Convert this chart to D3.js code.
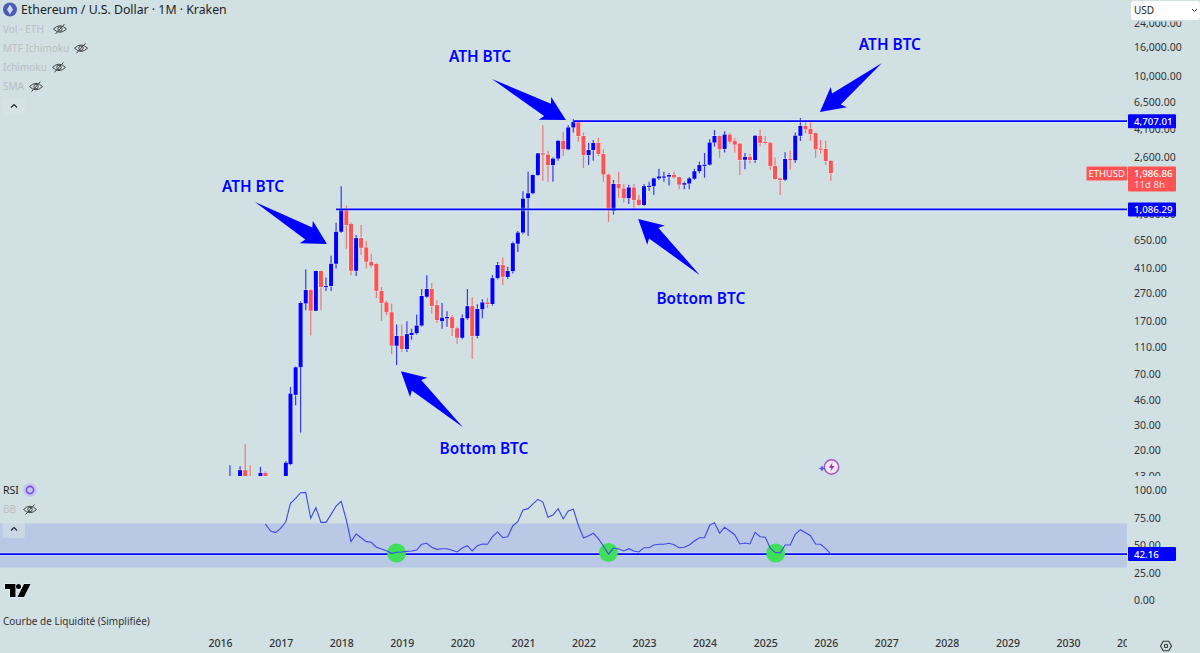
<!DOCTYPE html>
<html>
<head>
<meta charset="utf-8">
<title>ETHUSD monthly</title>
<script src="https://cdn.jsdelivr.net/npm/d3@7"></script>
<style>
  html, body { margin: 0; padding: 0; background: #d1e0e3; }
  svg { display: block; }
  text { font-family: "Noto Sans", sans-serif; }
</style>
</head>
<body>
<svg id="chart" width="1200" height="653"></svg>
<script>
/* ---- data ---- */
const months = [
  "2016-03","2016-05","2016-06","2016-07","2016-09","2016-10",
  "2017-02","2017-03","2017-04","2017-05","2017-06","2017-07","2017-08","2017-09","2017-10","2017-11","2017-12",
  "2018-01","2018-02","2018-03","2018-04","2018-05","2018-06","2018-07","2018-08","2018-09","2018-10","2018-11","2018-12",
  "2019-01","2019-02","2019-03","2019-04","2019-05","2019-06","2019-07","2019-08","2019-09","2019-10","2019-11","2019-12",
  "2020-01","2020-02","2020-03","2020-04","2020-05","2020-06","2020-07","2020-08","2020-09","2020-10","2020-11","2020-12",
  "2021-01","2021-02","2021-03","2021-04","2021-05","2021-06","2021-07","2021-08","2021-09","2021-10","2021-11","2021-12",
  "2022-01","2022-02","2022-03","2022-04","2022-05","2022-06","2022-07","2022-08","2022-09","2022-10","2022-11","2022-12",
  "2023-01","2023-02","2023-03","2023-04","2023-05","2023-06","2023-07","2023-08","2023-09","2023-10","2023-11","2023-12",
  "2024-01","2024-02","2024-03","2024-04","2024-05","2024-06","2024-07","2024-08","2024-09","2024-10","2024-11","2024-12",
  "2025-01","2025-02","2025-03","2025-04","2025-05","2025-06","2025-07","2025-08","2025-09","2025-10","2025-11","2025-12",
  "2026-01","2026-02"
];
const open = [
  7,9,14.3,12,12,13.7,
  11,15.8,50,79,228,285,202,391,300,305,441,
  750,1086,855,392,675,578,456,440,281,232,197,113,
  133,107,135,139,158,255,290,222,170,178,181,151,
  129,178,218,133,207,232,226,347,432,354,390,615,
  740,1310,1420,1920,2760,2700,2270,2530,3400,2950,4240,4650,
  3680,2680,2915,3280,2730,1940,1060,1660,1540,1310,1565,1280,
  1170,1595,1600,1820,1870,1875,1930,1860,1640,1670,1810,2050,
  2270,2285,3300,3680,2970,3770,3400,3240,2480,2600,2470,3700,
  3340,3290,2240,1820,1780,2520,2460,3690,4350,4140,3860,2990,
  2970,2440
];
const high = [
  15.5,15.3,22,15.5,15.1,14,
  16.6,57,80,236,403,290,395,395,351,503,870,
  1600,1160,880,710,840,645,520,445,300,238,228,161,
  161,170,150,190,290,365,320,241,230,200,188,155,
  190,290,253,225,245,250,365,455,490,420,635,760,
  1470,2030,1950,2780,4400,2880,2580,3450,3950,4400,4870,4770,
  3900,3290,3440,3580,2950,1975,1770,2030,1660,1640,1660,1380,
  1660,1720,1840,2140,2030,1990,2030,1870,1720,1860,2140,2400,
  2770,3490,4060,3730,3980,3870,3550,3270,2780,2730,3720,4100,
  3680,3330,2580,1850,2810,2880,3900,4955,4720,4750,3900,3440,
  3400,2450
];
const low = [
  6,8,11,9.5,11,10,
  10,15.5,42,26.7,204,134,200,204,281,281,408,
  735,565,365,360,510,408,415,250,170,188,98,82,
  102,102,125,136,155,250,193,165,150,155,133,117,
  126,174,91,128,178,212,220,340,310,342,375,535,
  720,700,1400,1900,1745,1720,1720,2440,2640,2900,3900,3350,
  2160,2270,2440,2640,1720,885,1000,1320,1220,1190,1075,1150,
  1150,1480,1380,1770,1720,1620,1820,1520,1520,1520,1770,1980,
  1840,2250,3090,2560,2800,3250,2800,1925,2120,2340,2360,3090,
  3200,2090,1780,1380,1740,2110,2360,3390,3860,3400,2560,2750,
  2270,1750
];
const close = [
  11.5,14.3,12,11.5,13.7,11,
  16.2,51,79,230,285,202,391,300,305,441,750,
  1086,840,392,675,575,456,428,281,230,197,113,133,
  107,137,140,158,258,290,219,173,180,182,151,129,
  179,218,133,208,232,226,347,432,355,392,620,740,
  1300,1420,1925,2760,2700,2270,2530,3400,2950,4240,4650,3680,
  2680,2915,3280,2730,1940,1060,1660,1540,1310,1565,1270,1170,
  1600,1610,1820,1880,1880,1925,1850,1640,1680,1820,2050,2270,
  2285,3300,3680,2950,3770,3350,3190,2470,2600,2470,3700,3280,
  3290,2230,1800,1770,2510,2460,3700,4350,4110,3800,2950,2970,
  2430,1986.86
];

// RSI, one value a month from 2016-10 to 2026-02
const rsiStart = "2016-10";
const rsi = [
  69.5,63.2,61.7,
  65.6,71.6,88.3,92.9,98,98.3,74.7,84.4,71,71,78.3,85.9,
  90.2,73.2,53.5,60.5,57.1,53.5,52.9,48.4,46.8,45.3,42.9,43.8,
  44.1,44.7,45,45.9,51.1,52,48.4,46.5,47.1,47.1,45.6,44.1,
  47.7,49.8,45,49.8,51.4,51.1,58,62.3,57.1,58,68,71.6,
  82.3,83.5,87.7,92,89.5,75.6,77.7,83.5,74.1,81.4,82.9,68.4,
  56.8,58.9,61.1,56.2,49.5,42.3,47.7,46.8,45,47.1,45,44.1,
  48,48,50.5,51.1,51.1,52,50.7,48,48.4,50.5,54.1,57.1,
  57.1,68.4,70.7,61.1,66.5,63.2,59.8,51.4,52.3,51.4,62,58,
  57.5,47.5,43.8,43.2,50.5,50.5,60.2,64.4,61.6,58.9,51.4,51.1,
  47.1,42.16
];

const priceTicks = [24000,16000,10000,6500,4100,2600,1000,650,410,270,170,110,70,46,30,20,13];
const rsiTicks = [100,75,50,25,0];
const yearTicks = d3.range(2016, 2032);

const athLevel = 4707.01;
const bottomLevel = 1086.29;
const rsiLevel = 42.16;
const lastPrice = 1986.86;

// start of each horizontal level
const athLevelFrom = "2021-11-01";
const bottomLevelFrom = "2017-12-01";

// annotations
const noteTexts = ["ATH BTC","ATH BTC","ATH BTC","Bottom BTC","Bottom BTC"];
const noteDates = ["2020-04-17","2027-01-23","2016-07-18","2023-12-10","2020-05-11"];
const notePrices = [13670,16700,1576,249,20.6];
const arrowTailDates = ["2020-06-28","2026-12-06","2016-07-30","2023-12-04","2020-01-05"];
const arrowTailPrices = [9478,12365,1229,365,29.2];
const arrowTipDates = ["2021-09-17","2025-11-27","2017-10-07","2022-11-27","2018-12-27"];
const arrowTipPrices = [4796,5478,611,926,74];

// green RSI markers
const markerDates = ["2018-12-01","2022-06-01","2025-03-05"];
const markerValues = [43.2,43.6,43.2];

// legend
const legendPrice = ["Vol · ETH","MTF Ichimoku","Ichimoku","SMA"];

/* ---- scales ---- */
const UP = "#0000ff", DOWN = "#ff5252", BG = "#d1e0e3";
const parseMonth = d3.utcParse("%Y-%m");
const parseDay = d3.utcParse("%Y-%m-%d");

const x = d3.scaleUtc()
  .domain([new Date(Date.UTC(2016,0,1)), new Date(Date.UTC(2030,0,1))])
  .range([220, 1068]);
const y = d3.scaleLog().domain([16000, 20]).range([47.5, 450]);
const yRsi = d3.scaleLinear().domain([100, 0]).range([490.5, 600.5]);

const paneRight = 1127;
const svg = d3.select("#chart");
svg.append("rect").attr("width",1200).attr("height",653).attr("fill",BG);

const defs = svg.append("defs");
defs.append("clipPath").attr("id","mainClip").append("rect")
  .attr("x",0).attr("y",21.5).attr("width",paneRight).attr("height",454.5);
defs.append("clipPath").attr("id","axisClip").append("rect")
  .attr("x",paneRight).attr("y",21.5).attr("width",73).attr("height",454.5);
defs.append("clipPath").attr("id","timeClip").append("rect")
  .attr("x",0).attr("y",630).attr("width",paneRight).attr("height",23);

/* ---- candles ---- */
const candles = months.map((m,i) => ({date:parseMonth(m), o:open[i], h:high[i], l:low[i], c:close[i]}));
const bodyW = 4;

const gCandles = svg.append("g").attr("clip-path","url(#mainClip)");
gCandles.selectAll("line.wick").data(candles).join("line")
  .attr("class","wick")
  .attr("x1",d => x(d.date)).attr("x2",d => x(d.date))
  .attr("y1",d => y(d.h)).attr("y2",d => y(d.l))
  .attr("stroke",d => d.c >= d.o ? UP : DOWN)
  .attr("stroke-opacity",0.75)
  .attr("stroke-width",1.2);
gCandles.selectAll("rect.body").data(candles).join("rect")
  .attr("class","body")
  .attr("x",d => x(d.date) - bodyW/2)
  .attr("width",bodyW)
  .attr("y",d => Math.min(y(d.o),y(d.c)))
  .attr("height",d => Math.max(1.2, Math.abs(y(d.o)-y(d.c))))
  .attr("fill",d => d.c >= d.o ? UP : DOWN)
  .attr("stroke","#fff").attr("stroke-opacity",0.45).attr("stroke-width",1.2)
  .style("paint-order","stroke");

/* ---- horizontal levels ---- */
function level(x1, yPos) {
  svg.append("line").attr("x1",x1).attr("x2",paneRight)
    .attr("y1",yPos).attr("y2",yPos)
    .attr("stroke","#fff").attr("stroke-opacity",0.4).attr("stroke-width",3.4);
  svg.append("line").attr("x1",x1).attr("x2",paneRight)
    .attr("y1",yPos).attr("y2",yPos)
    .attr("stroke",UP).attr("stroke-width",1.8);
}
level(x(parseDay(athLevelFrom)), y(athLevel));
level(x(parseDay(bottomLevelFrom)), y(bottomLevel));

/* ---- arrows and notes ---- */
function arrowPoints(tail, tip) {
  const dx = tip[0]-tail[0], dy = tip[1]-tail[1], len = Math.hypot(dx,dy);
  const ux = dx/len, uy = dy/len, nx = -uy, ny = ux;
  const at = (along, side) => [tip[0]-ux*along+nx*side, tip[1]-uy*along+ny*side];
  return [tail, at(21,7), at(24,13), tip, at(24,-13), at(21,-7)];
}
noteTexts.forEach((t,i) => {
  const tail = [x(parseDay(arrowTailDates[i])), y(arrowTailPrices[i])];
  const tip = [x(parseDay(arrowTipDates[i])), y(arrowTipPrices[i])];
  svg.append("polygon")
    .attr("points",arrowPoints(tail,tip).join(" "))
    .attr("fill",UP);
  svg.append("text")
    .attr("x",x(parseDay(noteDates[i]))).attr("y",y(notePrices[i]))
    .attr("text-anchor","middle").attr("dy","0.35em")
    .attr("font-size",15.4).attr("font-weight",600)
    .attr("fill",UP).text(t);
});

/* ---- price axis ---- */
const axisFont = 10.5;
const gPriceAxis = svg.append("g").attr("clip-path","url(#axisClip)")
  .append("g").attr("transform",`translate(1134,0)`)
  .call(d3.axisRight(y).tickValues(priceTicks).tickSize(0).tickPadding(0).tickFormat(d3.format(",.2f")));
gPriceAxis.select(".domain").remove();
gPriceAxis.selectAll("text").attr("font-size",axisFont).attr("fill","#333")
  .style("font-family",'"Noto Sans", sans-serif');

/* ---- RSI pane ---- */
svg.append("rect").attr("x",0).attr("width",paneRight)
  .attr("y",yRsi(70)).attr("height",yRsi(30)-yRsi(70))
  .attr("fill","#b9c8e4");

const rsiFirst = parseMonth(rsiStart);
const rsiLine = d3.line()
  .x((d,i) => x(d3.utcMonth.offset(rsiFirst,i)))
  .y(d => yRsi(d));
level(0, yRsi(rsiLevel));
svg.selectAll("circle.marker").data(markerDates).join("circle")
  .attr("class","marker")
  .attr("cx",d => x(parseDay(d)))
  .attr("cy",(d,i) => yRsi(markerValues[i]))
  .attr("r",9.5)
  .attr("fill","#3fdf5a");
svg.append("path").datum(rsi)
  .attr("d",rsiLine)
  .attr("fill","none")
  .attr("stroke","#3f48ea")
  .attr("stroke-width",1.1);

const gRsiAxis = svg.append("g").attr("transform","translate(1134,0)")
  .call(d3.axisRight(yRsi).tickValues(rsiTicks).tickSize(0).tickPadding(0).tickFormat(d3.format(".2f")));
gRsiAxis.select(".domain").remove();
gRsiAxis.selectAll("text").attr("font-size",axisFont).attr("fill","#333")
  .style("font-family",'"Noto Sans", sans-serif');

/* ---- time axis ---- */
const gTime = svg.append("g").attr("clip-path","url(#timeClip)")
  .append("g").attr("transform","translate(0,640)")
  .call(d3.axisBottom(x).tickValues(yearTicks.map(v => new Date(Date.UTC(v,0,1))))
    .tickSize(0).tickPadding(0).tickFormat(d3.utcFormat("%Y")));
gTime.select(".domain").remove();
gTime.selectAll("text").attr("font-size",10.5).attr("font-weight",500).attr("fill","#333")
  .style("font-family",'"Noto Sans", sans-serif');

/* ---- axis value labels ---- */
const labelFont = 9.7;
function valueLabel(yPos, txt, fill) {
  svg.append("rect").attr("x",1128).attr("y",yPos-7).attr("width",48).attr("height",14)
    .attr("rx",1).attr("fill",fill);
  svg.append("text").attr("x",1134).attr("y",yPos).attr("dy","0.35em")
    .attr("font-size",labelFont).attr("font-weight",500).attr("fill","#fff").text(txt);
}
const fmt = d3.format(",.2f");
valueLabel(y(athLevel), fmt(athLevel), UP);
valueLabel(y(bottomLevel), fmt(bottomLevel), UP);
valueLabel(yRsi(rsiLevel), fmt(rsiLevel), UP);

// last price block
const lastY = y(lastPrice);
svg.append("rect").attr("x",1086.5).attr("y",lastY-6.5).attr("width",40.5).attr("height",14).attr("rx",1).attr("fill",DOWN);
svg.append("text").attr("x",1106.7).attr("y",lastY+0.5).attr("dy","0.35em").attr("text-anchor","middle")
  .attr("font-size",9.4).attr("fill","#fff").text("ETHUSD");
svg.append("rect").attr("x",1128).attr("y",lastY-6.5).attr("width",48).attr("height",25).attr("rx",1).attr("fill",DOWN);
svg.append("text").attr("x",1134).attr("y",lastY+0.5).attr("dy","0.35em")
  .attr("font-size",labelFont).attr("font-weight",500).attr("fill","#fff").text(fmt(lastPrice));
svg.append("text").attr("x",1134).attr("y",lastY+11.5).attr("dy","0.35em")
  .attr("font-size",labelFont).attr("fill","#fde").text("11d 8h");

/* ---- top right currency box ---- */
svg.append("rect").attr("x",1131).attr("y",1).attr("width",69).attr("height",19).attr("rx",3).attr("fill","#fff");
svg.append("text").attr("x",1134).attr("y",10.5).attr("dy","0.35em").attr("font-size",10).attr("fill","#222").text("USD");
svg.append("path").attr("d","M1192 9 l2.5 2.5 l2.5 -2.5").attr("fill","none").attr("stroke","#333").attr("stroke-width",1);

/* ---- legends ---- */
function eye(cx, cy) {
  const g = svg.append("g").attr("transform",`translate(${cx},${cy})`)
    .attr("fill","none").attr("stroke","#444").attr("stroke-width",1);
  g.append("path").attr("d","M-6.5 0 Q0 -6.5 6.5 0 Q0 6.5 -6.5 0 Z");
  g.append("circle").attr("r",2.2);
  g.append("line").attr("x1",-4.5).attr("y1",5).attr("x2",4.5).attr("y2",-5);
}
function collapseBox(x0, y0, fill) {
  svg.append("rect").attr("x",x0).attr("y",y0).attr("width",22.5).attr("height",17).attr("rx",2)
    .attr("fill",fill).attr("fill-opacity",0.5);
  svg.append("path").attr("d",`M${x0+8.5} ${y0+9.5} l3 -3 l3 3`).attr("fill","none").attr("stroke","#222").attr("stroke-width",1.1);
}

// coin icon and title
svg.append("circle").attr("cx",10).attr("cy",9.5).attr("r",7).attr("fill","#4a5cb4");
svg.append("path").attr("d","M10 4.5 L13 9.5 L10 14.5 L7 9.5 Z").attr("fill","#cdd6f5");
svg.append("text").attr("x",21).attr("y",10).attr("dy","0.35em").attr("font-size",12.3).attr("fill","#222")
  .text("Ethereum / U.S. Dollar · 1M · Kraken");

const legendEyeX = [60,81,59,36];
legendPrice.forEach((t,i) => {
  const ly = 29 + i*19.2;
  svg.append("text").attr("x",3).attr("y",ly).attr("dy","0.35em").attr("font-size",10).attr("fill","#bbbfc2").text(t);
  eye(legendEyeX[i], ly);
});
collapseBox(2.5, 98, "#dbe6e9");

svg.append("text").attr("x",3).attr("y",490.5).attr("dy","0.35em").attr("font-size",10.5).attr("fill","#222").text("RSI");
svg.append("circle").attr("cx",30).attr("cy",490).attr("r",7).attr("fill","#c5c5ee");
svg.append("circle").attr("cx",30).attr("cy",490).attr("r",3.6).attr("fill","none").attr("stroke","#7a4be0").attr("stroke-width",1.6);
svg.append("text").attr("x",3).attr("y",509.5).attr("dy","0.35em").attr("font-size",10).attr("fill","#bbbfc2").text("BB");
eye(30, 509.5);
collapseBox(2.5, 521, "#dbe6e9");

// logo
const logo = svg.append("g").attr("fill","#000").attr("stroke","#fff").attr("stroke-width",0.8).style("paint-order","stroke");
logo.append("path").attr("d","M5 584 h10.5 v13 h-5.5 v-8 h-5 z");
logo.append("circle").attr("cx",18.5).attr("cy",586.5).attr("r",2.5);
logo.append("path").attr("d","M30.5 584 L24 597 h-6.5 L24 584 z");

svg.append("text").attr("x",3).attr("y",621).attr("dy","0.35em").attr("font-size",10).attr("fill","#333")
  .text("Courbe de Liquidité (Simplifiée)");

// spark badge
const spark = svg.append("g").attr("transform","translate(831.5,467)");
spark.append("circle").attr("r",7.2).attr("fill","#f3e9f6").attr("stroke","#a455c8").attr("stroke-width",1.5);
spark.append("path").attr("d","M1 -4.5 L-2.5 0.8 H0 L-1 4.5 L2.8 -1 H0.2 Z").attr("fill","#a020b0");
spark.append("path").attr("d","M-9.5 -1.8 l1 2.2 l2.2 1 l-2.2 1 l-1 2.2 l-1 -2.2 l-2.2 -1 l2.2 -1 z").attr("fill","#5a50f0");

// settings icon
const gear = svg.append("g").attr("transform","translate(1166,646)").attr("fill","none").attr("stroke","#333").attr("stroke-width",1.1);
gear.append("path").attr("d","M-5.5 0 L-2.8 -4.8 H2.8 L5.5 0 L2.8 4.8 H-2.8 Z");
gear.append("circle").attr("r",1.7);
</script>
</body>
</html>
